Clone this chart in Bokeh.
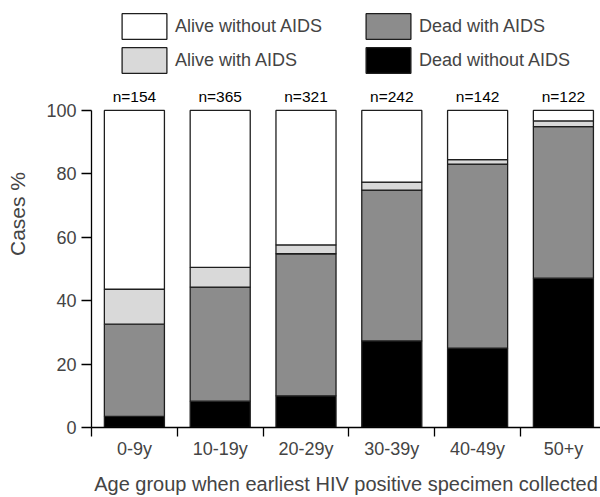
from bokeh.plotting import figure
from bokeh.models import Range1d, FixedTicker, Legend, LegendItem, ColumnDataSource
from bokeh.core.properties import value
from bokeh.embed import file_html
from bokeh.resources import INLINE

# ---- data ----
age_groups = ["0-9y", "10-19y", "20-29y", "30-39y", "40-49y", "50+y"]
n_cases = [154, 365, 321, 242, 142, 122]
dead_without_aids = [3.5, 8.3, 10.0, 27.3, 25.0, 47.1]
dead_with_aids = [29.1, 36.0, 44.8, 47.6, 58.1, 47.8]
alive_with_aids = [11.0, 6.2, 2.8, 2.5, 1.4, 1.8]
alive_without_aids = [56.4, 49.5, 42.4, 22.6, 15.5, 3.3]
y_ticks = [0, 20, 40, 60, 80, 100]

FONT = "Liberation Sans"
W, H = 600, 497

xs = [i + 0.5 for i in range(len(age_groups))]
src = ColumnDataSource(dict(
    x=xs,
    dwo=dead_without_aids,
    dw=dead_with_aids,
    aw=alive_with_aids,
    awo=alive_without_aids,
    lab=["n=%d" % n for n in n_cases],
    top=[100] * len(xs),
))

frame_bottom = 431
px_per_unit = 3.2
x_px = 85.8
left = 91

p = figure(width=W, height=H, output_backend="svg", toolbar_location=None,
           x_range=Range1d(0, (W - left) / x_px),
           y_range=Range1d(0, frame_bottom / px_per_unit),
           min_border_top=0, min_border_right=0, min_border_left=left,
           min_border_bottom=H - frame_bottom)
p.outline_line_color = None
p.grid.visible = False
p.background_fill_color = "white"
p.border_fill_color = "white"

stack_names = ["dwo", "dw", "aw", "awo"]
colors = ["#000000", "#8c8c8c", "#d9d9d9", "#ffffff"]
rs = p.vbar_stack(stack_names, x="x", width=0.7, source=src, color=colors,
                  line_color="#1e1e1e", line_width=1.3)

p.text(x="x", y="top", text="lab", source=src, text_align="center",
       text_baseline="bottom", y_offset=-5, text_font=value(FONT),
       text_font_size="15.5px", text_color="black")

# x axis
xa = p.xaxis[0]
xa.ticker = FixedTicker(ticks=xs, minor_ticks=list(range(len(age_groups) + 1)))
xa.major_label_overrides = {x: lab for x, lab in zip(xs, age_groups)}
xa.major_tick_line_color = None
xa.major_tick_out = 0
xa.major_tick_in = 0
xa.minor_tick_out = 9
xa.minor_tick_in = 0
xa.minor_tick_line_color = "black"
xa.minor_tick_line_width = 1.3
xa.axis_line_color = "black"
xa.axis_line_width = 1.3
xa.major_label_text_font = FONT
xa.major_label_text_font_size = "18px"
xa.major_label_standoff = 2
xa.axis_label = "Age group when earliest HIV positive specimen collected"
xa.axis_label_text_font = FONT
xa.axis_label_text_font_size = "20px"
xa.axis_label_text_font_style = "normal"
xa.axis_label_standoff = 11

# y axis
ya = p.yaxis[0]
ya.ticker = FixedTicker(ticks=y_ticks, minor_ticks=[])
ya.bounds = (0, 100)
ya.major_tick_out = 10
ya.major_tick_in = 0
ya.major_tick_line_color = "black"
ya.major_tick_line_width = 1.3
ya.axis_line_color = "black"
ya.axis_line_width = 1.3
ya.major_label_text_font = FONT
ya.major_label_text_font_size = "18px"
ya.major_label_standoff = 5
ya.axis_label = "Cases %"
ya.axis_label_text_font = FONT
ya.axis_label_text_font_size = "21px"
ya.axis_label_text_font_style = "normal"
ya.axis_label_standoff = 14

legend = Legend(items=[
    LegendItem(label="Alive without AIDS", renderers=[rs[3]]),
    LegendItem(label="Alive with AIDS", renderers=[rs[2]]),
    LegendItem(label="Dead with AIDS", renderers=[rs[1]]),
    LegendItem(label="Dead without AIDS", renderers=[rs[0]]),
], location=(25, frame_bottom - 80), ncols=2)
legend.glyph_width = 56
legend.glyph_height = 32
legend.label_standoff = 3
legend.label_width = 183
legend.spacing = 2
legend.padding = 0
legend.margin = 0
legend.border_line_color = None
legend.background_fill_alpha = 0
legend.label_text_font = FONT
legend.label_text_font_size = "18px"
p.add_layout(legend, "center")

open("out.html", "w").write(file_html(p, INLINE))
